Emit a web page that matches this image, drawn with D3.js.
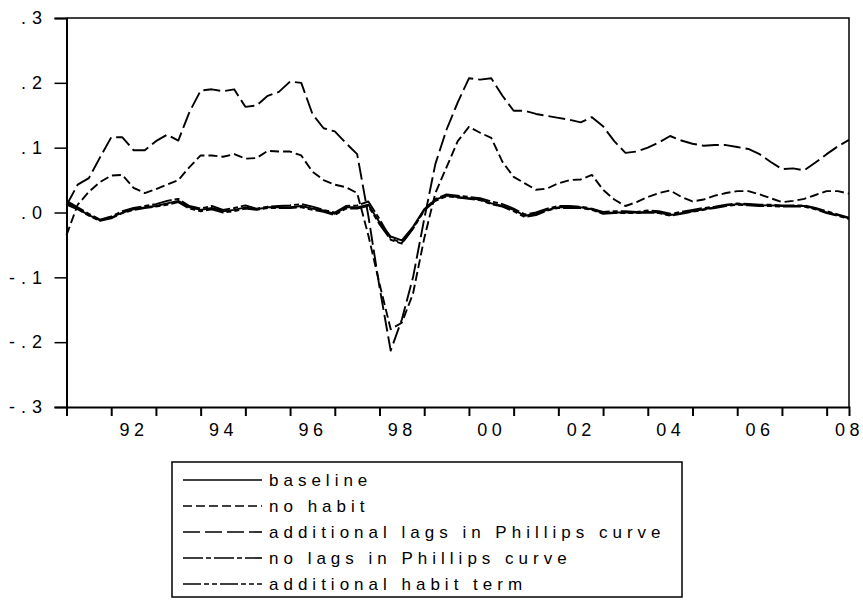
<!DOCTYPE html>
<html>
<head>
<meta charset="utf-8">
<script src="https://cdn.jsdelivr.net/npm/d3@7"></script>
<style>
  body { margin: 0; background: #fff; }
  svg { display: block; font-family: "Liberation Sans", Arial, sans-serif; }
</style>
</head>
<body>
<script>
// quarterly observations, 1991Q1 .. 2008Q3
var startYear = 1991, nObs = 71;
var quarters = d3.range(nObs).map(function(i){ return startYear + i / 4; });

var seriesNames = ["baseline", "no habit", "additional lags in Phillips curve",
                   "no lags in Phillips curve", "additional habit term"];

var baseline = [0.015, 0.006, -0.004, -0.012, -0.008, 0.000, 0.005, 0.008, 0.010, 0.014,
  0.018, 0.008, 0.004, 0.007, 0.002, 0.004, 0.008, 0.005, 0.008, 0.008,
  0.008, 0.010, 0.006, 0.003, -0.002, 0.008, 0.008, 0.012, -0.015, -0.037,
  -0.043, -0.022, 0.005, 0.020, 0.026, 0.024, 0.022, 0.020, 0.014, 0.010,
  0.004, -0.005, -0.002, 0.004, 0.008, 0.008, 0.008, 0.005, -0.001, 0.000,
  0.000, 0.000, 0.001, 0.000, -0.004, -0.001, 0.002, 0.005, 0.008, 0.011,
  0.013, 0.012, 0.011, 0.011, 0.010, 0.010, 0.010, 0.006, 0.000, -0.004, -0.009];

var noHabit = [-0.035, 0.012, 0.032, 0.047, 0.057, 0.058, 0.038, 0.030, 0.036, 0.043,
  0.050, 0.070, 0.088, 0.088, 0.086, 0.090, 0.083, 0.084, 0.095, 0.094,
  0.094, 0.088, 0.063, 0.050, 0.043, 0.039, 0.030, -0.035, -0.110, -0.180,
  -0.170, -0.125, -0.040, 0.030, 0.070, 0.110, 0.132, 0.123, 0.115, 0.078,
  0.055, 0.045, 0.035, 0.037, 0.045, 0.050, 0.051, 0.058, 0.035, 0.020,
  0.010, 0.016, 0.024, 0.030, 0.034, 0.024, 0.017, 0.020, 0.026, 0.030,
  0.033, 0.033, 0.028, 0.022, 0.016, 0.018, 0.021, 0.027, 0.033, 0.033, 0.029];

var addLags = [0.011, 0.043, 0.053, 0.085, 0.116, 0.116, 0.096, 0.096, 0.110, 0.120,
  0.111, 0.155, 0.188, 0.190, 0.187, 0.190, 0.163, 0.165, 0.180, 0.186,
  0.202, 0.200, 0.152, 0.130, 0.125, 0.107, 0.090, -0.005, -0.115, -0.213,
  -0.165, -0.100, -0.010, 0.075, 0.128, 0.170, 0.207, 0.205, 0.207, 0.180,
  0.157, 0.157, 0.152, 0.149, 0.146, 0.143, 0.139, 0.147, 0.133, 0.110,
  0.092, 0.094, 0.100, 0.108, 0.118, 0.111, 0.106, 0.103, 0.104, 0.104,
  0.101, 0.098, 0.090, 0.078, 0.067, 0.068, 0.065, 0.077, 0.090, 0.102, 0.112];

var noLags = [0.018, 0.008, -0.002, -0.011, -0.006, 0.002, 0.007, 0.010, 0.013, 0.018,
  0.021, 0.010, 0.006, 0.010, 0.004, 0.007, 0.011, 0.006, 0.009, 0.010,
  0.011, 0.013, 0.009, 0.004, 0.000, 0.010, 0.011, 0.017, -0.010, -0.040,
  -0.047, -0.024, 0.004, 0.021, 0.028, 0.026, 0.024, 0.022, 0.017, 0.013,
  0.006, -0.003, 0.000, 0.006, 0.010, 0.010, 0.009, 0.006, 0.001, 0.002,
  0.002, 0.001, 0.003, 0.002, -0.002, 0.001, 0.004, 0.007, 0.009, 0.012,
  0.014, 0.013, 0.012, 0.012, 0.011, 0.011, 0.011, 0.007, 0.002, -0.003, -0.008];

var addHabit = [0.012, 0.005, -0.005, -0.013, -0.009, -0.001, 0.004, 0.007, 0.009, 0.012,
  0.016, 0.006, 0.002, 0.005, 0.000, 0.002, 0.006, 0.004, 0.007, 0.007,
  0.007, 0.008, 0.004, 0.001, -0.004, 0.006, 0.006, 0.010, -0.018, -0.042,
  -0.048, -0.025, 0.003, 0.018, 0.025, 0.023, 0.021, 0.019, 0.013, 0.009,
  0.002, -0.007, -0.004, 0.003, 0.007, 0.007, 0.007, 0.004, -0.002, -0.001,
  -0.001, -0.001, 0.000, -0.001, -0.005, -0.002, 0.001, 0.004, 0.007, 0.010,
  0.012, 0.011, 0.010, 0.010, 0.009, 0.009, 0.009, 0.005, -0.001, -0.005, -0.010];

var yTicks = [-0.3, -0.2, -0.1, 0.0, 0.1, 0.2, 0.3];
var yTickLabels = ["-.3", "-.2", "-.1", ".0", ".1", ".2", ".3"];
var yearTicks = d3.range(1991, 2009);
var xLabelYears = [1992, 1994, 1996, 1998, 2000, 2002, 2004, 2006, 2008];
var xTickLabels = ["92", "94", "96", "98", "00", "02", "04", "06", "08"];

var allSeries = [baseline, noHabit, addLags, noLags, addHabit];
var dashes = ["none", "9,4", "17,5", "20,3,5,3", "18,3,5,3,5,3"];

// drawing area
var width = 863, height = 601;
var svg = d3.select("body").append("svg").attr("width", width).attr("height", height);
svg.append("rect").attr("width", width).attr("height", height).attr("fill", "#fff");

var plotLeft = 66.5, plotRight = 849, plotTop = 18, plotBottom = 407;

var x = d3.scaleLinear().domain([1991, 2008.5]).range([plotLeft, plotRight]);
var y = d3.scaleLinear().domain([-0.3, 0.3]).range([plotBottom, plotTop]);

// frame (top and right)
svg.append("path")
  .attr("d", "M" + plotLeft + "," + plotTop + "H" + plotRight + "V" + plotBottom)
  .attr("fill", "none").attr("stroke", "#000").attr("stroke-width", 1.5);

// y axis
var yAxis = svg.append("g").attr("transform", "translate(" + plotLeft + ",0)")
  .call(d3.axisLeft(y).tickValues(yTicks).tickSize(12).tickPadding(6.5)
    .tickFormat(function(d, i){ return yTickLabels[i]; }));
yAxis.select(".domain").attr("stroke-width", 2);
yAxis.selectAll(".tick line").attr("stroke-width", 1.5);
yAxis.selectAll("text").attr("font-size", 18).attr("fill", "#000")
  .attr("font-family", "Liberation Sans, Arial, sans-serif")
  .style("letter-spacing", "6px");

// x axis: year ticks
var xAxis = svg.append("g").attr("transform", "translate(0," + plotBottom + ")")
  .call(d3.axisBottom(x).tickValues(yearTicks).tickSize(9).tickFormat(""));
xAxis.select(".domain").attr("stroke-width", 2);
xAxis.selectAll(".tick line").attr("stroke-width", 2);

// x axis: labels centred in each labelled year
var xLab = svg.append("g").attr("transform", "translate(0," + plotBottom + ")")
  .call(d3.axisBottom(x).tickValues(xLabelYears.map(function(d){ return d + 0.5; }))
    .tickSize(0).tickPadding(16)
    .tickFormat(function(d, i){ return xTickLabels[i]; }));
xLab.select(".domain").remove();
xLab.selectAll("text").attr("font-size", 18).attr("fill", "#000")
  .attr("font-family", "Liberation Sans, Arial, sans-serif")
  .style("letter-spacing", "4.5px");

// series lines
var line = d3.line()
  .x(function(d, i){ return x(quarters[i]); })
  .y(function(d){ return y(d); });

svg.append("g").selectAll("path").data(allSeries).enter().append("path")
  .attr("d", function(d){ return line(d); })
  .attr("fill", "none")
  .attr("stroke", "#000")
  .attr("stroke-width", 1.9)
  .attr("stroke-linejoin", "round")
  .attr("stroke-dasharray", function(d, i){ return dashes[i]; });

// legend
var legend = svg.append("g");
legend.append("rect").attr("x", 172).attr("y", 462).attr("width", 510).attr("height", 135)
  .attr("fill", "none").attr("stroke", "#000").attr("stroke-width", 1.5);

var rows = legend.selectAll("g.row").data(seriesNames).enter().append("g")
  .attr("class", "row")
  .attr("transform", function(d, i){ return "translate(0," + (480 + i * 26) + ")"; });
rows.append("line").attr("x1", 183).attr("x2", 262).attr("y1", 0).attr("y2", 0)
  .attr("stroke", "#000").attr("stroke-width", 1.6)
  .attr("stroke-dasharray", function(d, i){ return dashes[i]; });
rows.append("text").attr("x", 269).attr("y", 6).attr("font-size", 17)
  .style("letter-spacing", "5px")
  .text(function(d){ return d; });
</script>
</body>
</html>
